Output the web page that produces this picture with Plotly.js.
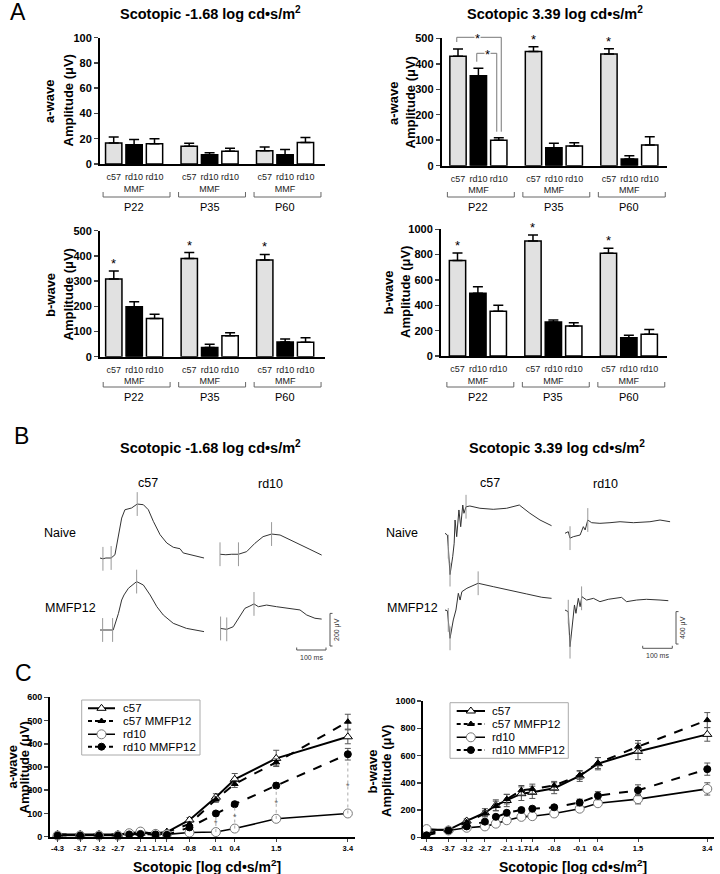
<!DOCTYPE html>
<html><head><meta charset="utf-8">
<script src="https://cdn.plot.ly/plotly-3.0.1.min.js"></script>
<style>html,body{margin:0;padding:0;background:#fff}#chart{width:720px;height:874px}</style>
</head><body><div id="chart"></div>
<script>
// ================= DATA =================
const groups = ['P22','P35','P60'];
const strainLabels = ['c57','rd10<br>MMF','rd10'];

// Panel A – a-wave, scotopic -1.68
const aDimC57 = [16.6,14,10.5],  aDimC57Err = [4.7,2.4,3];
const aDimMmf = [15.3,7.4,7.4],  aDimMmfErr = [4,1.5,4];
const aDimRd10 = [16,10,17],     aDimRd10Err = [4,2.4,4];
// Panel A – a-wave, scotopic 3.39
const aBrC57 = [430,448,438],    aBrC57Err = [28,19,21];
const aBrMmf = [353,70,26],      aBrMmfErr = [29,18,13];
const aBrRd10 = [100,77,81],     aBrRd10Err = [10,13,33];
// Panel A – b-wave, scotopic -1.68
const bDimC57 = [308,390,384],   bDimC57Err = [32,23,22];
const bDimMmf = [198,37,58],     bDimMmfErr = [20,12,12];
const bDimRd10 = [152,83,57],    bDimRd10Err = [16,12,18];
// Panel A – b-wave, scotopic 3.39
const bBrC57 = [753,908,810],    bBrC57Err = [60,47,40];
const bBrMmf = [495,268,145],    bBrMmfErr = [52,16,18];
const bBrRd10 = [353,237,171],   bBrRd10Err = [47,26,39];

// Panel B – ERG traces (time ms, amplitude µV), scotopic -1.68
const tDimC57Naive = [0,10,20,38,51,62,74,85,108,127,148,165,182,205,228,250,273,284,313,355];
const vDimC57Naive = [0,-5,0,0,20,123,245,296,307,331,327,296,225,143,92,66,57,31,20,0];
const tDimRd10Naive = [0,20,40,63,91,119,147,176,205,239,273,307,347];
const vDimRd10Naive = [23,20,23,23,39,90,131,147,141,110,80,53,18];
const tDimC57Mmf = [0,20,45,63,74,82,97,125,148,171,194,216,250,295,355];
const vDimC57Mmf = [0,0,0,102,184,215,256,297,276,215,143,92,41,10,-10];
const tDimRd10Mmf = [0,23,45,63,85,102,116,131,159,193,239,273,296,324,347];
const vDimRd10Mmf = [10,4,20,72,133,147,160,143,153,143,133,123,92,72,67];
// Panel B – scotopic 3.39
const tBrC57Naive = [0,8,11,17,26,31,34,39.5,47,53,60,64,71,84,118,163,208,251,287,321,360];
const vBrC57Naive = [0,-21,-165,-510,-289,-123,164,-42,288,81,349,247,328,337,309,296,309,349,247,164,94];
const tBrRd10Naive = [0,11,17,28,51,62,68,77,90,118,152,186,231,287,321,355];
const vBrRd10Naive = [0,20,-60,-42,-21,82,41,164,131,123,131,143,131,143,164,143];
const tBrC57Mmf = [0,8,17,28,37,45,51,57,74,112,163,220,276,327,360];
const vBrC57Mmf = [0,-9,-350,-123,0,206,123,226,268,330,288,239,198,157,144];
const tBrRd10Mmf = [0,11,17,26,32,37,45,51,57,73,96,118,146,191,208,242,275,321,349];
const vBrRd10Mmf = [0,-21,-453,-123,62,-41,144,41,165,123,144,103,132,156,103,123,132,123,115];
// marker (cursor) times on each trace, ms
const mDimC57Naive=[10,38,127], mDimRd10Naive=[0,63,176], mDimC57Mmf=[9,43,125], mDimRd10Mmf=[2,23,116];
const mBrC57Naive=[11,17,71], mBrRd10Naive=[17,77], mBrC57Mmf=[11,17,112], mBrRd10Mmf=[11,17,56];

// Panel C – intensity series
const cLevels = [-4.3,-3.7,-3.2,-2.7,-2.4,-2.1,-1.7,-1.4,-0.8,-0.1,0.4,1.5,3.4];
const cTickVals = [-4.3,-3.7,-3.2,-2.7,-2.1,-1.7,-1.4,-0.8,-0.1,0.4,1.5,3.4];
const cTickText = ['-4.3','-3.7','-3.2','-2.7','-2.1','-1.7','-1.4','-0.8','-0.1','0.4','1.5','3.4'];
const seriesNames = ['c57','c57 MMFP12','rd10','rd10 MMFP12'];
// a-wave
const caC57  = [10,10,10,10,15,15,15,20,72,170,247,337,430];
const caC57E = [3,3,3,3,5,5,5,5,10,15,25,35,30];
const caC57M = [10,10,10,10,15,15,15,20,55,160,227,320,495];
const caC57ME= [3,3,3,3,5,5,5,5,8,12,15,15,32];
const caRd  = [5,5,5,5,15,22,12,10,18,20,35,77,100];
const caRdE = [2,2,2,2,3,4,3,3,3,4,5,8,8];
const caRdM = [5,5,5,5,10,12,10,8,40,100,140,220,355];
const caRdME= [2,2,2,2,3,3,3,3,5,8,10,12,25];
const caSigLevels = [-0.1,0.4,1.5,3.4];
// b-wave
const cbC57  = [55,55,120,180,235,270,320,330,360,450,540,630,755];
const cbC57E = [10,10,15,30,40,45,50,45,40,40,45,60,50];
const cbC57M = [30,55,110,175,230,280,345,355,380,455,545,665,860];
const cbC57ME= [10,10,15,20,35,35,35,35,30,30,40,45,55];
const cbRd  = [60,50,70,80,100,125,150,155,175,210,250,280,355];
const cbRdE = [10,8,10,10,10,15,15,12,12,15,20,35,45];
const cbRdM = [15,50,80,115,150,180,200,210,220,255,305,345,500];
const cbRdME= [5,8,10,12,12,15,15,15,15,25,30,40,45];

// ================= BUILD =================
const W=720, H=874;
const Y = p => 1 - p/H, X = p => p/W;
const FF = "'Liberation Sans', Arial, sans-serif";
const traces = [];
const layout = {
  width:W, height:H, margin:{l:0,r:0,t:0,b:0},
  paper_bgcolor:'#fff', plot_bgcolor:'rgba(0,0,0,0)',
  font:{family:FF, color:'#000'}, annotations:[], shapes:[], showlegend:false
};
const sfx = n => n===1 ? '' : String(n);
function ann(x,y,text,size,extra){ layout.annotations.push(Object.assign({xref:'paper',yref:'paper',x:X(x),y:Y(y),text:text,showarrow:false,font:{size:size,family:FF,color:'#000'},xanchor:'center',yanchor:'middle'},extra||{})); }

// Panel letters & titles
ann(18,12,'A',23); ann(21,436,'B',23); ann(23,673,'C',23);
const T1 = '<b>Scotopic -1.68 log cd•s/m<sup>2</sup></b>', T2 = '<b>Scotopic 3.39 log cd•s/m<sup>2</sup></b>';
ann(210,13,T1,14.5); ann(555,13,T2,14.5); ann(210,447,T1,14.5); ann(557,447,T2,14.5);

// ---------- Panel A ----------
const unit = 20.4, gsp = 3.7;
const barFill = ['#e1e1e1','#000000','#ffffff'];
const aCharts = [
  {n:1, dom:[100,325,37.7,164], first:113.7, range:[0,100], dtick:20, wave:'a-wave', tx:[49,67.5], ty:101, br:[192,197,207],
   series:[[aDimC57,aDimC57Err],[aDimMmf,aDimMmfErr],[aDimRd10,aDimRd10Err]], stars:[]},
  {n:2, dom:[441.7,666.7,38.3,165.7], first:458, range:[0,500], dtick:100, wave:'a-wave', tx:[393,409.5], ty:103, br:[192,197,207],
   series:[[aBrC57,aBrC57Err],[aBrMmf,aBrMmfErr],[aBrRd10,aBrRd10Err]], stars:[1,2]},
  {n:3, dom:[100,325,230.7,356.7], first:113.8, range:[0,500], dtick:100, wave:'b-wave', tx:[50,67.5], ty:295, br:[382,387,397],
   series:[[bDimC57,bDimC57Err],[bDimMmf,bDimMmfErr],[bDimRd10,bDimRd10Err]], stars:[0,1,2]},
  {n:4, dom:[441,666.7,229.3,356], first:457.5, range:[0,1000], dtick:200, wave:'b-wave', tx:[388,405.5], ty:292.5, br:[382,387,397],
   series:[[bBrC57,bBrC57Err],[bBrMmf,bBrMmfErr],[bBrRd10,bBrRd10Err]], stars:[0,1,2]}
];
aCharts.forEach(c=>{
  const s = sfx(c.n), [x0,x1,yt,yb] = c.dom;
  const start = -(c.first - x0)/unit;
  const tv=[], tt=[];
  groups.forEach((g,gi)=>strainLabels.forEach((l,i)=>{tv.push(gi*gsp+i); tt.push(l);}));
  layout['xaxis'+s] = {domain:[X(x0),X(x1)], anchor:'y'+s, range:[start, start+(x1-x0)/unit],
    showline:true, linewidth:2, linecolor:'#000', ticks:'outside', ticklen:3, tickcolor:'rgba(0,0,0,0)', tickangle:0,
    tickvals:tv, ticktext:tt, tickfont:{size:9, family:FF, color:'#222'}, showgrid:false, zeroline:false};
  layout['yaxis'+s] = {domain:[Y(yb),Y(yt)], anchor:'x'+s, range:c.range, dtick:c.dtick,
    showline:true, linewidth:2, linecolor:'#000', ticks:'outside', ticklen:4, tickwidth:1.5,
    tickfont:{size:11, weight:'bold', family:FF}, showgrid:false, zeroline:false};
  c.series.forEach((ser,i)=>{
    traces.push({type:'bar', xaxis:'x'+s, yaxis:'y'+s, x:groups.map((g,gi)=>gi*gsp+i), y:ser[0], width:0.8,
      marker:{color:barFill[i], line:{color:'#000', width:1.5}},
      error_y:{type:'data', symmetric:false, array:ser[1], arrayminus:ser[1].map(()=>0), color:'#000', thickness:1.5, width:5},
      hoverinfo:'skip'});
  });
  ann(c.tx[0], c.ty, '<b>'+c.wave+'</b>', 13, {textangle:-90});
  ann(c.tx[1], c.ty, '<b>Amplitude (μV)</b>', 13, {textangle:-90});
  groups.forEach((g,gi)=>{
    const cx = gi*gsp + 1.12, h = 1.64;
    layout.shapes.push({type:'path', xref:'x'+s, yref:'paper',
      path:`M ${cx-h},${Y(c.br[0])} L ${cx-h},${Y(c.br[1])} L ${cx+h},${Y(c.br[1])} L ${cx+h},${Y(c.br[0])}`,
      line:{color:'#666', width:1}});
    layout.annotations.push({xref:'x'+s, yref:'paper', x:gi*gsp+1, y:Y(c.br[2]), text:g, showarrow:false,
      font:{size:11, family:FF}, xanchor:'center', yanchor:'middle'});
  });
  c.stars.forEach(gi=>{
    layout.annotations.push({xref:'x'+s, yref:'y'+s, x:gi*gsp, y:c.series[0][0][gi]+c.series[0][1][gi],
      text:'*', showarrow:false, font:{size:13, family:FF}, yanchor:'bottom', yshift:-2});
  });
});
// significance brackets in the 3.39 a-wave chart
[{x0:-0.06,x1:2.12,yt:37.3,yl:42,yr:131.7,sx:0.98},{x0:0.92,x1:1.9,yt:53.3,yl:61.7,yr:131.7,sx:1.46}].forEach(b=>{
  layout.shapes.push({type:'path', xref:'x2', yref:'paper',
    path:`M ${b.x0},${Y(b.yl)} L ${b.x0},${Y(b.yt)} L ${b.x1},${Y(b.yt)} L ${b.x1},${Y(b.yr)}`, line:{color:'#777', width:1}});
  layout.annotations.push({xref:'x2', yref:'paper', x:b.sx, y:Y(b.yt), text:'*', showarrow:false,
    font:{size:13, family:FF}, xanchor:'center', yanchor:'middle', yshift:-1, bgcolor:'#fff', borderpad:0});
});

// ---------- Panel B ----------
function interp(ts,vs,t){
  if(t<=ts[0]) return vs[0];
  for(let i=0;i<ts.length-1;i++){ if(t>=ts[i] && t<=ts[i+1]){ const f=(t-ts[i])/(ts[i+1]-ts[i]); return vs[i]+f*(vs[i+1]-vs[i]); } }
  return vs[vs.length-1];
}
const bBlocks = [
  {n:5, dom:[90,345,470,665], ox:100, base:558, sx:0.293, sy:0.163, colPx:120, rowPx:72, amp:200, ampLabel:'200 μV',
   sb:{x:330, bot:646, hy:650, hx0:296.7}, sbText:[[337,630],[311,657]],
   list:[[tDimC57Naive,vDimC57Naive,mDimC57Naive,0,0],[tDimRd10Naive,vDimRd10Naive,mDimRd10Naive,1,0],
         [tDimC57Mmf,vDimC57Mmf,mDimC57Mmf,0,1],[tDimRd10Mmf,vDimRd10Mmf,mDimRd10Mmf,1,1]]},
  {n:6, dom:[430,695,470,665], ox:445, base:533.3, sx:0.296, sy:0.081, colPx:120, rowPx:76.7, amp:400, ampLabel:'400 μV',
   sb:{x:676, bot:644, hy:648.3, hx0:642.7}, sbText:[[683,628],[657,655]],
   list:[[tBrC57Naive,vBrC57Naive,mBrC57Naive,0,0],[tBrRd10Naive,vBrRd10Naive,mBrRd10Naive,1,0],
         [tBrC57Mmf,vBrC57Mmf,mBrC57Mmf,0,1],[tBrRd10Mmf,vBrRd10Mmf,mBrRd10Mmf,1,1]]}
];
bBlocks.forEach(b=>{
  const s = sfx(b.n), [x0,x1,yt,yb] = b.dom;
  layout['xaxis'+s] = {domain:[X(x0),X(x1)], anchor:'y'+s, range:[(x0-b.ox)/b.sx,(x1-b.ox)/b.sx], visible:false};
  layout['yaxis'+s] = {domain:[Y(yb),Y(yt)], anchor:'x'+s, range:[(b.base-yb)/b.sy,(b.base-yt)/b.sy], visible:false};
  const colOff = b.colPx/b.sx, rowOff = b.rowPx/b.sy;
  b.list.forEach(([ts,vs,ms,col,row])=>{
    traces.push({type:'scatter', mode:'lines', xaxis:'x'+s, yaxis:'y'+s, x:ts.map(t=>t+col*colOff), y:vs.map(v=>v-row*rowOff),
      line:{color:'#333', width:1}, hoverinfo:'skip'});
    traces.push({type:'scatter', mode:'markers', xaxis:'x'+s, yaxis:'y'+s, x:ms.map(t=>t+col*colOff), y:ms.map(t=>interp(ts,vs,t)-row*rowOff),
      marker:{symbol:'line-ns', size:17, line:{color:'#999', width:1}}, hoverinfo:'skip'});
  });
  // scale bars
  const tx = (b.sb.x-b.ox)/b.sx, vbot = (b.base-b.sb.bot)/b.sy, hk = 2.5/b.sx, up = 2.5/b.sy;
  traces.push({type:'scatter', mode:'lines', xaxis:'x'+s, yaxis:'y'+s, x:[tx+hk,tx,tx,tx+hk], y:[vbot+b.amp,vbot+b.amp,vbot,vbot],
    line:{color:'#555', width:1}, hoverinfo:'skip'});
  const hx = (b.sb.hx0-b.ox)/b.sx, hy = (b.base-b.sb.hy)/b.sy;
  traces.push({type:'scatter', mode:'lines', xaxis:'x'+s, yaxis:'y'+s, x:[hx,hx,hx+100,hx+100], y:[hy+up,hy,hy,hy+up],
    line:{color:'#555', width:1}, hoverinfo:'skip'});
  ann(b.sbText[0][0], b.sbText[0][1], b.ampLabel, 7, {textangle:-90, font:{size:7,family:FF,color:'#333'}});
  ann(b.sbText[1][0], b.sbText[1][1], '100 ms', 7, {font:{size:7,family:FF,color:'#333'}});
});
ann(148,483,'c57',12.5); ann(270,484,'rd10',12.5); ann(490,483,'c57',12.5); ann(605,484,'rd10',12.5);
ann(60,533,'Naive',12.5); ann(70,608,'MMFP12',12.5); ann(402,533,'Naive',12.5); ann(412,608,'MMFP12',12.5);

// ---------- Panel C ----------
const cStyle = [
  {dash:'solid', w:2,   sym:'triangle-up', fill:'#fff', size:8, lc:'#000'},
  {dash:'dash',  w:2,   sym:'triangle-up', fill:'#000', size:6, lc:'#000'},
  {dash:'solid', w:1.6, sym:'circle',      fill:'#fff', size:9, lc:'#777'},
  {dash:'dash',  w:2,   sym:'circle',      fill:'#000', size:7, lc:'#000'}
];
const cCharts = [
  {n:7, dom:[50,355,697.3,836.7], range:[-4.5,3.59], yr:[0,600], dtick:100, wave:'a-wave', tx:[12,24], ty:767.5,
   leg:{n:9, box:[81.7,200,700,755], rows:[708.3,721,734.3,746.7], l0:88, l1:115, tx:121},
   vals:[[caC57,caC57E],[caC57M,caC57ME],[caRd,caRdE],[caRdM,caRdME]], xt:[207,866]},
  {n:8, dom:[423.3,714,701,837.3], range:[-4.39,3.4+7/37.96], yr:[0,1000], dtick:200, wave:'b-wave', tx:[372,386.5], ty:771.5,
   leg:{n:10, box:[450,568.3,702.7,758.3], rows:[711,724,737.3,750], l0:456.7, l1:485, tx:490},
   vals:[[cbC57,cbC57E],[cbC57M,cbC57ME],[cbRd,cbRdE],[cbRdM,cbRdME]], xt:[573,866]}
];
cCharts.forEach(c=>{
  const s = sfx(c.n), [x0,x1,yt,yb] = c.dom;
  layout['xaxis'+s] = {domain:[X(x0),X(x1)], anchor:'y'+s, range:c.range, tickvals:cTickVals, ticktext:cTickText,
    ticks:'outside', ticklen:3, tickwidth:1, tickfont:{size:7.5, weight:'bold', family:FF}, tickangle:0,
    showline:true, linewidth:2, linecolor:'#000', showgrid:false, zeroline:false};
  layout['yaxis'+s] = {domain:[Y(yb),Y(yt)], anchor:'x'+s, range:c.yr, dtick:c.dtick, ticks:'outside', ticklen:4, tickwidth:1.5,
    tickfont:{size:9, weight:'bold', family:FF}, showline:true, linewidth:2, linecolor:'#000', showgrid:false, zeroline:false};
  ann(c.tx[0], c.ty, '<b>'+c.wave+'</b>', 13, {textangle:-90});
  ann(c.tx[1], c.ty, '<b>Amplitude (μV)</b>', 13, {textangle:-90});
  ann(c.xt[0], c.xt[1], '<b>Scotopic [log cd•s/m<sup>2</sup>]</b>', 14);
  c.vals.forEach((v,i)=>{
    const st = cStyle[i];
    traces.push({type:'scatter', mode:'lines+markers', name:seriesNames[i], xaxis:'x'+s, yaxis:'y'+s,
      x:cLevels, y:v[0], error_y:{type:'data', array:v[1], color:'#555', thickness:1, width:3},
      line:{color:'#000', width:st.w, dash:st.dash},
      marker:{symbol:st.sym, size:st.size, color:st.fill, line:{color:st.lc, width:1}}, hoverinfo:'skip', cliponaxis:false});
  });
  // hand-built legend box on its own hidden axes (px units)
  const L = c.leg, ls = sfx(L.n), [bx0,bx1,by0,by1] = L.box;
  layout['xaxis'+ls] = {domain:[X(bx0),X(bx1)], anchor:'y'+ls, range:[bx0,bx1], visible:false};
  layout['yaxis'+ls] = {domain:[Y(by1),Y(by0)], anchor:'x'+ls, range:[by1,by0], visible:false};
  layout.shapes.push({type:'rect', xref:'paper', yref:'paper', x0:X(bx0), x1:X(bx1), y0:Y(by1), y1:Y(by0),
    line:{color:'#aaa', width:1}, fillcolor:'#fff', layer:'below'});
  seriesNames.forEach((nm,i)=>{
    const st = cStyle[i], r = L.rows[i];
    traces.push({type:'scatter', mode:'lines', xaxis:'x'+ls, yaxis:'y'+ls, x:[L.l0,L.l1], y:[r,r],
      line:{color:'#000', width:st.w, dash:st.dash==='dash'?'4px,3px':'solid'}, hoverinfo:'skip', cliponaxis:false});
    traces.push({type:'scatter', mode:'markers', xaxis:'x'+ls, yaxis:'y'+ls, x:[(L.l0+L.l1)/2], y:[r],
      marker:{symbol:st.sym, size:st.size, color:st.fill, line:{color:st.lc, width:1}}, hoverinfo:'skip', cliponaxis:false});
    layout.annotations.push({xref:'x'+ls, yref:'y'+ls, x:L.tx, y:r, text:nm, showarrow:false, xanchor:'left', yanchor:'middle',
      font:{size:11.5, family:FF}});
  });
});
// significance marks rd10 vs rd10 MMFP12 (a-wave)
caSigLevels.forEach(lv=>{
  const i = cLevels.indexOf(lv);
  const lo = caRd[i], hi = caRdM[i]-caRdME[i];
  traces.push({type:'scatter', mode:'lines', xaxis:'x7', yaxis:'y7', x:[lv,lv], y:[lo,hi], line:{color:'#aaa', width:1, dash:'dot'},
    hoverinfo:'skip'});
  traces.push({type:'scatter', mode:'text', xaxis:'x7', yaxis:'y7', x:[lv], y:[(lo+hi)/2], text:['*'], textfont:{size:9, color:'#666', family:FF},
    hoverinfo:'skip'});
});

Plotly.newPlot('chart', traces, layout, {staticPlot:true, displayModeBar:false});
</script></body></html>
